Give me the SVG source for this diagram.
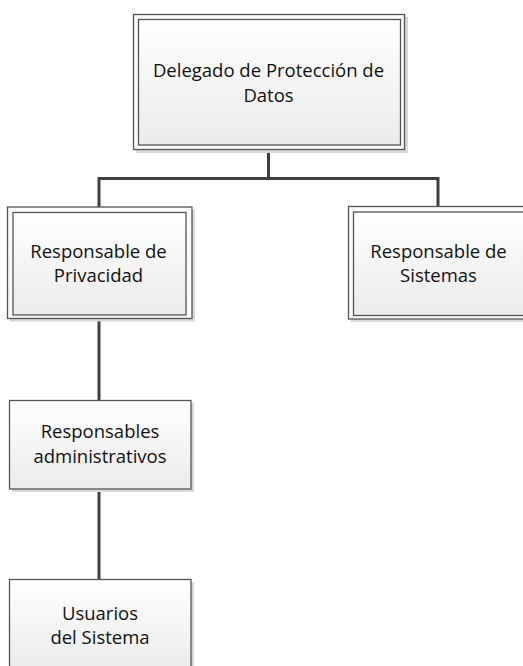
<svg xmlns="http://www.w3.org/2000/svg" width="523" height="666" viewBox="0 0 523 666">
<defs>
<linearGradient id="g" x1="0" y1="0" x2="0" y2="1">
<stop offset="0" stop-color="#ffffff"/>
<stop offset="1" stop-color="#ebebeb"/>
</linearGradient>
<style>
.sh{fill:#d9d9d9;}
.out{fill:#fafafa;stroke:#555;stroke-width:1.3;}
.box{fill:url(#g);stroke:#555;stroke-width:1.3;}
.t{font-family:"Open Sans","Liberation Sans",Arial,sans-serif;font-size:18.5px;fill:#111;text-anchor:middle;}
.c{fill:none;stroke:#404040;stroke-width:3;}
</style>
</defs>
<rect width="523" height="666" fill="#fff"/>
<g id="connectors">
<path class="c" d="M268.5 150 V178.5 M99 178.5 H438 M99 177 V207 M438 177 V206.5"/>
<path class="c" d="M99 319 V400.5 M99 489 V579.5"/>
</g>
<g id="dpd">
<rect class="sh" x="136" y="17" width="272" height="136"/>
<rect class="out" x="133.5" y="14.5" width="271" height="135"/>
<rect class="box" x="138.5" y="19.5" width="262" height="125.5"/>
<text class="t" x="268.5" y="77">Delegado de Protección de</text>
<text class="t" x="268.5" y="102">Datos</text>
</g>
<g id="privacidad">
<rect class="sh" x="10" y="209.5" width="185" height="112"/>
<rect class="out" x="7.5" y="207" width="184.5" height="111.5"/>
<rect class="box" x="13" y="212.5" width="173" height="102.5"/>
<text class="t" x="98.5" y="258">Responsable de</text>
<text class="t" x="98.5" y="282">Privacidad</text>
</g>
<g id="sistemas">
<rect class="sh" x="351" y="209" width="185" height="113"/>
<rect class="out" x="348.5" y="206.5" width="185" height="112.5"/>
<rect class="box" x="353.5" y="212" width="175" height="103.5"/>
<text class="t" x="438.5" y="258">Responsable de</text>
<text class="t" x="438.5" y="282">Sistemas</text>
</g>
<g id="administrativos">
<rect class="sh" x="12" y="403" width="182" height="89"/>
<rect class="box" x="9.5" y="400.5" width="181.5" height="88.5"/>
<text class="t" x="100" y="438">Responsables</text>
<text class="t" x="100" y="463">administrativos</text>
</g>
<g id="usuarios">
<rect class="sh" x="12" y="582" width="182" height="90"/>
<rect class="box" x="9.5" y="579.5" width="181.5" height="90"/>
<text class="t" x="100" y="620">Usuarios</text>
<text class="t" x="100" y="644">del Sistema</text>
</g>
</svg>
